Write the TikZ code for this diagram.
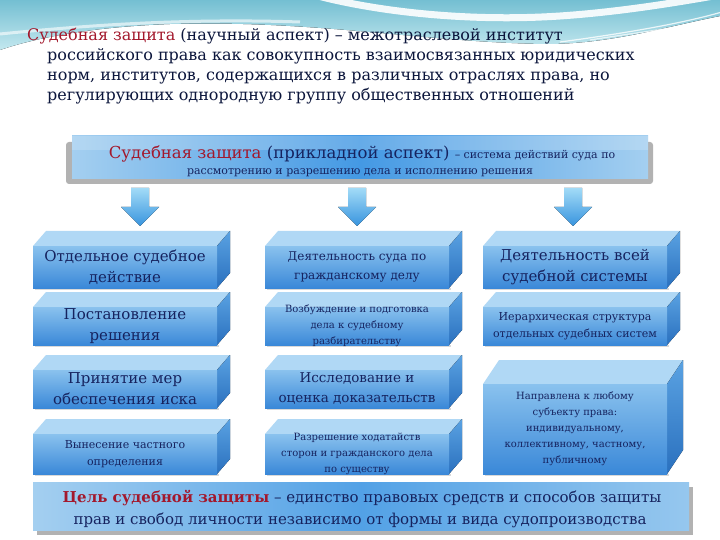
\documentclass[tikz,border=0pt]{standalone}
\usepackage{fontspec}
\setmainfont{DejaVu Serif}
\definecolor{navy}{HTML}{16235F}
\definecolor{ttlc}{HTML}{0C163C}
\definecolor{dred}{HTML}{A3182C}
\definecolor{teal1}{HTML}{74BFD2}
\definecolor{teal2}{HTML}{C4E8EF}
\definecolor{fronttop}{HTML}{8AC2EE}
\definecolor{frontbot}{HTML}{3A88D8}
\definecolor{sidetop}{HTML}{5AA2E2}
\definecolor{sidebot}{HTML}{2A70BE}
\definecolor{topface}{HTML}{B0D8F5}
\definecolor{banl}{HTML}{A4CFF0}
\definecolor{banm}{HTML}{4499E4}
\definecolor{arrt}{HTML}{A2DBF7}
\definecolor{arrb}{HTML}{3894DE}
\tikzset{
  frontface/.style={top color=fronttop,bottom color=frontbot},
  sideface/.style={top color=sidetop,bottom color=sidebot},
  topf/.style={fill=topface},
  boxtext/.style={text=navy,align=center,inner sep=0pt},
  f10/.style={font=\fontsize{10}{16}\selectfont},
  f11/.style={font=\fontsize{11}{17}\selectfont},
  f12/.style={font=\fontsize{12}{19}\selectfont},
  f13/.style={font=\fontsize{13.5}{20}\selectfont},
  f15/.style={font=\fontsize{15}{21}\selectfont},
  ttl/.style={text=ttlc,inner sep=0pt,font=\fontsize{16}{20}\selectfont},
  blockarrow/.style={top color=arrt,bottom color=arrb},
}
\newcommand\cubebox[8]{%
  \fill[topf] (#2,#3) -- (#2+#6,#3-#7) -- (#4+#6,#3-#7) -- (#4,#3) -- cycle;
  \fill[sideface] (#4,#3) -- (#4+#6,#3-#7) -- (#4+#6,#5-#7) -- (#4,#5) -- cycle;
  \fill[black!15] (#2+2,#5) rectangle (#4+2,#5+2);
  \fill[frontface] (#2,#3) rectangle (#4,#5);
  \node[boxtext,#1] at ({(#2+#4)/2},{(#3+#5)/2}) {#8};
}
\newcommand\blockdown[1]{%
  \fill[blockarrow] (#1-9,188) -- (#1+9,188) -- (#1+9,207) -- (#1+19,207) -- (#1,226) -- (#1-19,207) -- (#1-9,207) -- cycle;
}
\begin{document}
\begin{tikzpicture}[x=1pt,y=-1pt]
\useasboundingbox (0,0) rectangle (720,540);
\fill[white] (0,0) rectangle (720,540);
% top background
\fill[top color=teal1,bottom color=teal2] (0,0) -- (720,0) -- (720,16) .. controls (660,28) and (610,44) .. (545,44) .. controls (420,42) and (320,20) .. (170,24) .. controls (90,27) and (35,38) .. (0,50) -- cycle;
\draw[white,line width=7,opacity=0.9] (318,-4) .. controls (380,12) and (470,22) .. (560,16) .. controls (620,12) and (680,2) .. (725,-6);
\draw[white,line width=1.2,opacity=0.8] (560,42) .. controls (620,34) and (680,24) .. (722,12);
\draw[white,line width=1.2,opacity=0.7] (590,40) .. controls (640,32) and (690,26) .. (722,20);
\draw[white,line width=3,opacity=0.6] (0,34) .. controls (80,26) and (180,18) .. (300,22);
% title
\node[ttl,anchor=base west] (t1) at (27,41) {\textcolor{dred}{Судебная защита} (научный аспект) – межотраслевой институт};
\node[ttl,anchor=base west] (t2) at (47,61) {российского права как совокупность взаимосвязанных юридических};
\node[ttl,anchor=base west] (t3) at (47,81) {норм, институтов, содержащихся в различных отраслях права, но};
\node[ttl,anchor=base west] (t4) at (47,101) {регулирующих однородную группу общественных отношений};
% top banner
\fill[black!30,rounded corners=3] (66,142) rectangle (653,184);
\fill[left color=banl,right color=banl,middle color=banm] (72,136) rectangle (648,179);
\fill[white,opacity=0.18] (72,136) rectangle (648,150);
\node[text=navy,anchor=base,inner sep=0pt] (ban1) at (362,159) {\fontsize{16.5}{18}\selectfont\textcolor{dred}{Судебная защита} (прикладной аспект) \fontsize{11}{13}\selectfont – система действий суда по};
\node[text=navy,anchor=base,inner sep=0pt] (ban2) at (360,175) {\fontsize{11}{13}\selectfont рассмотрению и разрешению дела и исполнению решения};
% arrows
\blockdown{140}
\blockdown{357}
\blockdown{573}
% column 1
\cubebox{name=c11,f15}{33}{246}{217}{288}{13}{15}{Отдельное судебное\\действие}
\cubebox{name=c12,f15}{33}{307}{217}{345}{13}{15}{Постановление\\решения}
\cubebox{name=c13,f15}{33}{370}{217}{408}{13}{15}{Принятие мер\\обеспечения иска}
\cubebox{name=c14,f11}{33}{434}{217}{474}{13}{15}{Вынесение частного\\определения}
% column 2
\cubebox{name=c21,f12}{265}{246}{449}{288}{13}{15}{Деятельность суда по\\гражданскому делу}
\cubebox{name=c22,f10}{265}{307}{449}{345}{13}{15}{Возбуждение и подготовка\\дела к судебному\\разбирательству}
\cubebox{name=c23,f13}{265}{370}{449}{408}{13}{15}{Исследование и\\оценка доказательств}
\cubebox{name=c24,f10}{265}{434}{449}{474}{13}{15}{Разрешение ходатайств\\сторон и гражданского дела\\по существу}
% column 3
\cubebox{name=c31,f15}{483}{246}{667}{288}{13}{15}{Деятельность всей\\судебной системы}
\cubebox{name=c32,f11}{483}{307}{667}{345}{13}{15}{Иерархическая структура\\отдельных судебных систем}
\cubebox{name=c33,f10}{483}{384}{667}{474}{16}{24}{Направлена к любому\\субъекту права:\\индивидуальному,\\коллективному, частному,\\публичному}
% bottom banner
\fill[black!30] (37,487) rectangle (693,535);
\fill[left color=banl,right color=banl!85!banm,middle color=banm!85!banl] (33,482) rectangle (689,530);
\node[text=navy,anchor=base,inner sep=0pt,font=\fontsize{15}{18}\selectfont] (g1) at (362,502) {\textcolor{dred}{\bfseries Цель судебной защиты} – единство правовых средств и способов защиты};
\node[text=navy,anchor=base,inner sep=0pt,font=\fontsize{15}{18}\selectfont] (g2) at (360,524) {прав и свобод личности независимо от формы и вида судопроизводства};
\end{tikzpicture}
\end{document}
